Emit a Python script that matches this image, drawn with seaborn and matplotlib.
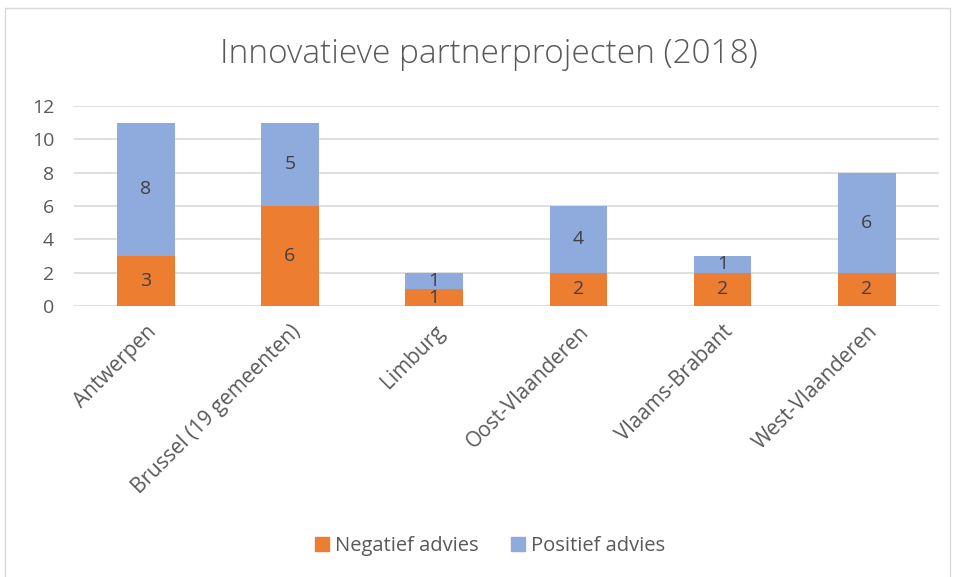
import pandas as pd
import matplotlib.pyplot as plt
import seaborn as sns
from matplotlib.patches import Patch, Rectangle

# Data
regions = ['Antwerpen', 'Brussel (19 gemeenten)', 'Limburg',
           'Oost-Vlaanderen', 'Vlaams-Brabant', 'West-Vlaanderen']
negatief = [3, 6, 1, 2, 2, 2]
positief = [8, 5, 1, 4, 1, 6]

orange = '#ED7D31'
blue = '#8FAADC'
grey_txt = '#595959'

df = pd.DataFrame({'regio': regions, 'negatief': negatief, 'positief': positief})
df['totaal'] = df['negatief'] + df['positief']

sns.set_theme(style='white')
plt.rcParams['font.family'] = ['Open Sans', 'DejaVu Sans']

fig = plt.figure(figsize=(9.57, 5.77), dpi=100)
ax = fig.add_axes([0.077, 0.4697, 0.904, 0.3466])

# stacked bars: total (blue) behind, negative (orange) in front
sns.barplot(data=df, x='regio', y='totaal', color=blue, width=0.4,
            saturation=1, linewidth=0, ax=ax, zorder=2)
sns.barplot(data=df, x='regio', y='negatief', color=orange, width=0.4,
            saturation=1, linewidth=0, ax=ax, zorder=3)

for i, row in df.iterrows():
    ax.text(i, row['negatief'] / 2, str(row['negatief']), ha='center', va='center',
            fontsize=14, color='#404040', zorder=5)
    ax.text(i, row['negatief'] + row['positief'] / 2, str(row['positief']),
            ha='center', va='center', fontsize=14, color='#404040', zorder=5)

ax.set_ylim(0, 12)
ax.set_yticks(range(0, 13, 2))
ax.set_xlim(-0.5, len(regions) - 0.5)
ax.yaxis.grid(True, color='#D9D9D9', linewidth=1.2, zorder=0)
ax.set_axisbelow(True)
sns.despine(ax=ax, left=True, bottom=True, top=True, right=True)
ax.set_xlabel(None)
ax.set_ylabel(None)
ax.tick_params(axis='y', length=0, pad=14, labelsize=14, labelcolor=grey_txt)
ax.tick_params(axis='x', length=0, pad=11, labelsize=15, labelcolor=grey_txt)
for lbl in ax.get_xticklabels():
    lbl.set_rotation(45)
    lbl.set_ha('right')
    lbl.set_rotation_mode('anchor')

fig.text(0.511, 1 - 54 / 577, 'Innovatieve partnerprojecten (2018)',
         ha='center', va='center', fontsize=24, fontweight='light', color=grey_txt)

handles = [Patch(color=orange, label='Negatief advies'),
           Patch(color=blue, label='Positief advies')]
fig.legend(handles=handles, loc='center', bbox_to_anchor=(0.512, 1 - 546 / 577),
           ncol=2, frameon=False, fontsize=14.5, labelcolor=grey_txt,
           handlelength=0.7, handleheight=0.7, handletextpad=0.3, columnspacing=1.6)

# chart border
fig.patches.append(Rectangle((5 / 957, -0.01), 945 / 957, 1 - 8 / 577 + 0.01,
                             transform=fig.transFigure, fill=False,
                             edgecolor='#D9D9D9', linewidth=1))

plt.savefig('out.png', dpi=100)
